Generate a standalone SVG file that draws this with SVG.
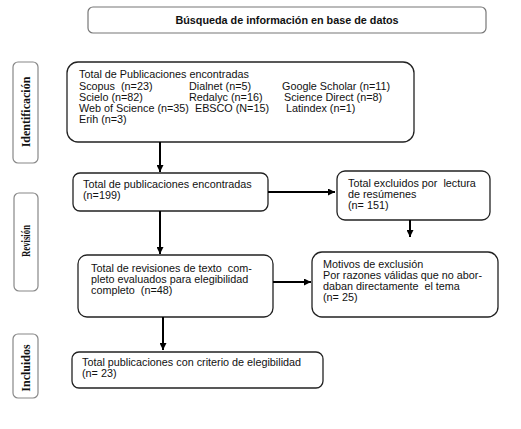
<svg xmlns="http://www.w3.org/2000/svg" width="521" height="429" viewBox="0 0 521 429">
<style>
.box{fill:#fff;stroke:#222;stroke-width:1.3}
.lbl{fill:#fff;stroke:#888;stroke-width:1.2}
.t{font-family:"Liberation Sans",Arial,sans-serif;font-size:10.8px;fill:#111}
.tb{font-family:"Liberation Sans",Arial,sans-serif;font-size:10.8px;font-weight:bold;fill:#111}
.side{font-family:"Liberation Serif","Times New Roman",serif;font-size:12px;font-weight:bold;fill:#111}
.c{stroke:#000;stroke-width:2;fill:none}
</style>
<defs>
<marker id="ah" viewBox="0 0 10 10" refX="10" refY="5" markerWidth="3.5" markerHeight="3.5" orient="auto" markerUnits="strokeWidth">
<path d="M0,0 L10,5 L0,10 z" fill="#000"/>
</marker>
</defs>
<rect width="521" height="429" fill="#fff"/>

<g id="header">
<rect x="88" y="7" width="398" height="26" rx="5" fill="#fff" stroke="#777" stroke-width="1.2"/>
<text class="tb" x="287" y="24" text-anchor="middle">Búsqueda de información en base de datos</text>
</g>

<g id="label-identificacion">
<rect class="lbl" x="13" y="62" width="25" height="101" rx="5"/>
<text class="side" transform="translate(29.5,112) rotate(-90)" text-anchor="middle">Identificación</text>
</g>
<g id="label-revision">
<rect class="lbl" x="14" y="193" width="24" height="98" rx="5"/>
<text class="side" transform="translate(29.5,241) rotate(-90)" text-anchor="middle" textLength="32" lengthAdjust="spacingAndGlyphs">Revisión</text>
</g>
<g id="label-incluidos">
<rect class="lbl" x="13" y="334" width="25" height="64" rx="5"/>
<text class="side" transform="translate(29.5,368) rotate(-90)" text-anchor="middle">Incluidos</text>
</g>

<g id="node-identificacion">
<rect class="box" x="67" y="62" width="347" height="80" rx="11"/>
<text class="t" x="79" y="78">Total de Publicaciones encontradas</text>
<text class="t" x="79" y="89.5" xml:space="preserve">Scopus  (n=23)</text>
<text class="t" x="189" y="89.5">Dialnet (n=5)</text>
<text class="t" x="282" y="89.5">Google Scholar (n=11)</text>
<text class="t" x="79" y="101">Scielo (n=82)</text>
<text class="t" x="189" y="101">Redalyc (n=16)</text>
<text class="t" x="284" y="101">Science Direct (n=8)</text>
<text class="t" x="79" y="112" xml:space="preserve">Web of Science (n=35)  EBSCO (N=15)</text>
<text class="t" x="286" y="112">Latindex (n=1)</text>
<text class="t" x="79" y="123">Erih (n=3)</text>
</g>

<g id="node-encontradas">
<rect class="box" x="73" y="173" width="195" height="38" rx="7"/>
<text class="t" x="83" y="188">Total de publicaciones encontradas</text>
<text class="t" x="83" y="199">(n=199)</text>
</g>

<g id="node-excluidos">
<rect class="box" x="337" y="171" width="153" height="49" rx="8"/>
<text class="t" x="348" y="186.5" xml:space="preserve">Total excluidos por  lectura</text>
<text class="t" x="348" y="197.5">de resúmenes</text>
<text class="t" x="348" y="208.5">(n= 151)</text>
</g>

<g id="node-revisiones">
<rect class="box" x="78" y="255" width="195" height="62" rx="9"/>
<text class="t" x="91" y="272" xml:space="preserve">Total de revisiones de texto  com-</text>
<text class="t" x="91" y="283">pleto evaluados para elegibilidad</text>
<text class="t" x="91" y="294" xml:space="preserve">completo  (n=48)</text>
</g>

<g id="node-motivos">
<rect class="box" x="312" y="252" width="186" height="65" rx="10"/>
<text class="t" x="323" y="268">Motivos de exclusión</text>
<text class="t" x="323" y="279">Por razones válidas que no abor-</text>
<text class="t" x="323" y="290" xml:space="preserve">daban directamente  el tema</text>
<text class="t" x="323" y="301">(n= 25)</text>
</g>

<g id="node-incluidos">
<rect class="box" x="72" y="352" width="251" height="36" rx="7"/>
<text class="t" x="82" y="366">Total publicaciones con criterio de elegibilidad</text>
<text class="t" x="82" y="377">(n= 23)</text>
</g>

<g id="connectors">
<line class="c" x1="160" y1="142" x2="160" y2="172" marker-end="url(#ah)"/>
<line class="c" x1="268" y1="192" x2="335" y2="192" marker-end="url(#ah)"/>
<line class="c" x1="160" y1="211" x2="160" y2="254" marker-end="url(#ah)"/>
<line class="c" x1="410" y1="220" x2="410" y2="237" marker-end="url(#ah)"/>
<line class="c" x1="273" y1="282" x2="311" y2="282" marker-end="url(#ah)"/>
<line class="c" x1="163" y1="317" x2="163" y2="350" marker-end="url(#ah)"/>
</g>
</svg>
